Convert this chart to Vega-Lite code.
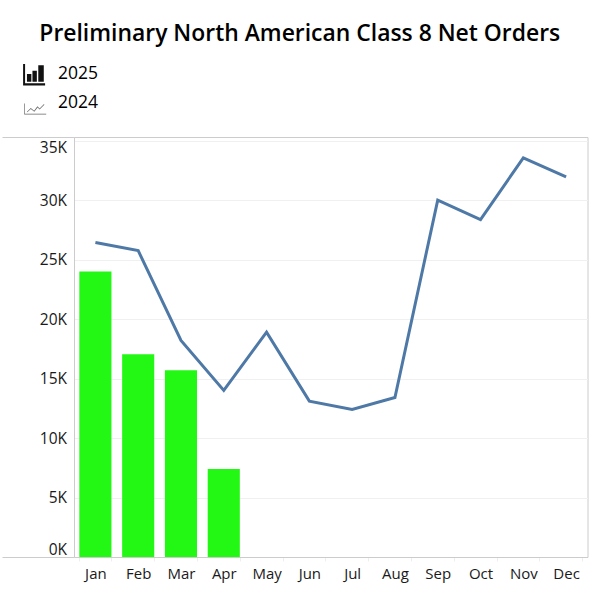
{
  "$schema": "https://vega.github.io/schema/vega-lite/v6.json",
  "width": 513.5,
  "height": 420,
  "autosize": {"type": "none"},
  "padding": {"left": 74, "top": 137, "right": 11, "bottom": 42},
  "background": "white",
  "title": {
    "text": "Preliminary North American Class 8 Net Orders",
    "font": "Open Sans",
    "fontSize": 22.9,
    "fontWeight": 600,
    "color": "#000000",
    "anchor": "middle",
    "dx": -31,
    "offset": 17
  },
  "config": {
    "font": "Open Sans",
    "view": {"stroke": "#cccccc", "strokeWidth": 1}
  },
  "data": {
    "values": [
      {"month": "Jan", "year": "2025", "orders": 24000},
      {"month": "Feb", "year": "2025", "orders": 17050},
      {"month": "Mar", "year": "2025", "orders": 15700},
      {"month": "Apr", "year": "2025", "orders": 7400},
      {"month": "Jan", "year": "2024", "orders": 26430},
      {"month": "Feb", "year": "2024", "orders": 25750},
      {"month": "Mar", "year": "2024", "orders": 18200},
      {"month": "Apr", "year": "2024", "orders": 14000},
      {"month": "May", "year": "2024", "orders": 18900},
      {"month": "Jun", "year": "2024", "orders": 13100},
      {"month": "Jul", "year": "2024", "orders": 12400},
      {"month": "Aug", "year": "2024", "orders": 13400},
      {"month": "Sep", "year": "2024", "orders": 30000},
      {"month": "Oct", "year": "2024", "orders": 28350},
      {"month": "Nov", "year": "2024", "orders": 33550},
      {"month": "Dec", "year": "2024", "orders": 31950}
    ]
  },
  "encoding": {
    "x": {
      "field": "month",
      "type": "nominal",
      "sort": ["Jan", "Feb", "Mar", "Apr", "May", "Jun", "Jul", "Aug", "Sep", "Oct", "Nov", "Dec"],
      "scale": {"paddingInner": 0.25, "paddingOuter": 0.125},
      "title": null,
      "axis": {
        "labelAngle": 0,
        "labelFontSize": 15,
        "labelColor": "#1a1a1a",
        "labelPadding": 5,
        "domainColor": "#cccccc",
        "tickColor": "#eeeeee",
        "tickBand": "extent",
        "tickSize": 4
      }
    },
    "y": {
      "field": "orders",
      "type": "quantitative",
      "scale": {"domain": [0, 35300], "nice": false},
      "title": null
    }
  },
  "layer": [
    {
      "transform": [{"filter": "datum.year == '2025'"}],
      "mark": {"type": "bar", "color": "#22f813"},
      "encoding": {
        "y": {
          "field": "orders",
          "type": "quantitative",
          "scale": {"domain": [0, 35300], "nice": false},
          "title": null,
          "axis": {
            "values": [0, 5000, 10000, 15000, 20000, 25000, 30000, 35000],
            "labelExpr": "datum.value / 1000 + 'K'",
            "labelFontSize": 15.5,
            "labelColor": "#1a1a1a",
            "labelPadding": 7.5,
            "labelBaseline": {
              "condition": [
                {"test": "datum.value == 0", "value": "bottom"},
                {"test": "datum.value == 35000", "value": "top"}
              ],
              "value": "middle"
            },
            "tickSize": 0,
            "domainColor": "#cccccc",
            "gridColor": "#f0f0f0",
            "grid": true
          }
        }
      }
    },
    {
      "transform": [{"filter": "datum.year == '2024'"}],
      "mark": {"type": "line", "color": "#4e79a7", "strokeWidth": 3},
      "encoding": {
        "y": {
          "field": "orders",
          "type": "quantitative",
          "scale": {"domain": [0, 35300], "nice": false},
          "title": null,
          "axis": {
            "orient": "left",
            "values": [0, 35300],
            "labels": false,
            "grid": false,
            "domain": false,
            "tickSize": 72,
            "tickColor": "#cccccc"
          }
        }
      }
    },
    {
      "mark": {"type": "point", "filled": true, "opacity": 0},
      "encoding": {
        "y": {
          "field": "orders",
          "type": "quantitative",
          "scale": {"domain": [0, 35300], "nice": false},
          "title": null,
          "axis": null
        },
        "shape": {
          "field": "year",
          "type": "nominal",
          "scale": {
            "domain": ["2025", "2024"],
            "range": [
              "M-0.9 -0.9H-0.72V0.85H1.1V1.05H-0.9Z M-0.55 0H-0.15V0.7H-0.55Z M-0.05 -0.3H0.35V0.7H-0.05Z M0.48 -0.8H0.98V0.7H0.48Z",
              "M-0.8 0.05H-0.74V0.98H1.2V1.05H-0.8Z M-0.55 0.8L-0.2 0.45L0.1 0.7L0.4 0.3L0.6 0.5L1 0.1L1.03 0.15L0.6 0.6L0.42 0.4L0.12 0.8L-0.2 0.55L-0.52 0.85Z"
            ]
          },
          "legend": {
            "title": null,
            "orient": "none",
            "legendX": -52,
            "legendY": -74,
            "symbolSize": 484,
            "symbolOpacity": 1,
            "symbolStrokeWidth": 0,
            "labelFontSize": 17.5,
            "labelColor": "#000000",
            "labelOffset": 14,
            "rowPadding": 6
          }
        },
        "color": {
          "field": "year",
          "type": "nominal",
          "scale": {"domain": ["2025", "2024"], "range": ["#111111", "#666666"]}
        }
      }
    }
  ],
  "resolve": {"axis": {"y": "independent"}}
}
